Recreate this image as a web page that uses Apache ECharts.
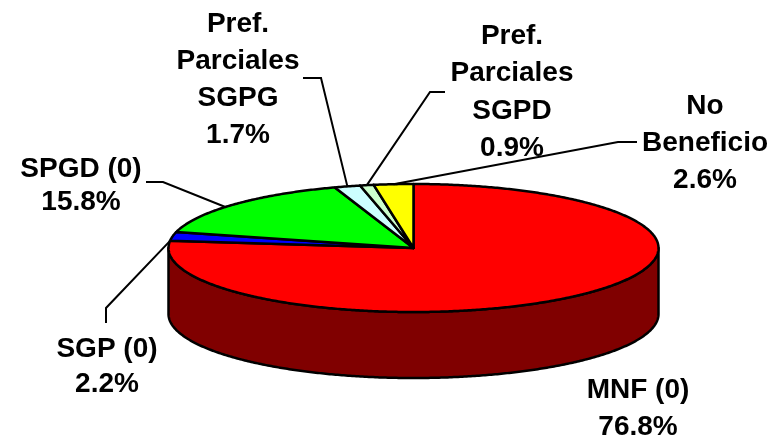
<!DOCTYPE html>
<html><head><meta charset="utf-8">
<style>html,body{margin:0;padding:0;background:#fff}#c{width:782px;height:437px}</style>
<script src="https://cdn.jsdelivr.net/npm/echarts@6/dist/echarts.min.js"></script>
</head><body><div id="c"></div>
<script>
// Data (clockwise from 12 o'clock)
const categories = ['MNF (0)', 'SGP (0)', 'SPGD (0)', 'Pref.\nParciales\nSGPG', 'Pref.\nParciales\nSGPD', 'No\nBeneficio'];
const shares = [76.8, 2.2, 15.8, 1.7, 0.9, 2.6];
const topColors = ['#ff0000', '#0000ff', '#00ff00', '#ccffff', '#ccffcc', '#ffff00'];
const wallColors = ['#800000', '#000080', '#008000', '#668080', '#668066', '#808000'];

// Pie geometry and label layout
const CX = 413.5, CY = 248, RX = 245, RY = 64, DEPTH = 66;
const labelLayout = [
  { x: 638, y: 390, line: 37 },
  { x: 107, y: 349, line: 35, path: [[106,323],[106,308]], shift: -4 },
  { x: 81,  y: 169, line: 33, path: [[146,182],[163,182]], shift: -3 },
  { x: 238, y: 24,  line: 37, path: [[303,78],[321,78]] },
  { x: 512, y: 36,  line: 37.5, path: [[445,92],[430,92]] },
  { x: 705, y: 106, line: 37, path: [[637,142],[618,142]] }
];

const total = shares.reduce((a, b) => a + b, 0);
let acc = 0;
const rows = shares.map((v, i) => { const s = acc; acc += v; return [i, s / total * 360, acc / total * 360, v]; });
const pt = (deg, dy) => { const r = deg * Math.PI / 180; return [CX + RX * Math.sin(r), CY - RY * Math.cos(r) + (dy || 0)]; };
const arc = (a, b, dy) => { const p = [], n = Math.max(2, Math.ceil((b - a) / 0.5)); for (let k = 0; k <= n; k++) p.push(pt(a + (b - a) * k / n, dy)); return p; };
const FONT = 'bold 28px "Liberation Sans", Arial, sans-serif';

const option = {
  animation: false,
  series: [
    { type: 'custom', coordinateSystem: 'none', silent: true, data: rows, z: 1,
      renderItem(params, api) {
        const a = Math.max(api.value(1), 90), b = Math.min(api.value(2), 270);
        if (b <= a) return { type: 'group', children: [] };
        const pts = arc(a, b, DEPTH).concat(arc(a, b, 0).reverse());
        return { type: 'polygon', shape: { points: pts }, style: { fill: wallColors[api.value(0)], stroke: '#000', lineWidth: 2.5, lineJoin: 'round' } };
      } },
    { type: 'custom', coordinateSystem: 'none', silent: true, data: rows, z: 2,
      renderItem(params, api) {
        const pts = [[CX, CY]].concat(arc(api.value(1), api.value(2), 0));
        return { type: 'polygon', shape: { points: pts }, style: { fill: topColors[api.value(0)], stroke: '#000', lineWidth: 2.5, lineJoin: 'round' } };
      } },
    { type: 'custom', coordinateSystem: 'none', silent: true, data: rows, z: 3,
      renderItem(params, api) {
        const i = api.value(0), L = labelLayout[i];
        const lines = (categories[i] + '\n' + api.value(3).toFixed(1) + '%').split('\n');
        const children = lines.map((t, k) => ({ type: 'text', style: { text: t, x: L.x, y: L.y + k * L.line, font: FONT, fill: '#000', align: 'center', verticalAlign: 'middle' } }));
        if (L.path) {
          const mid = pt((api.value(1) + api.value(2)) / 2 + (L.shift || 0), 0);
          children.push({ type: 'polyline', shape: { points: L.path.concat([mid]) }, style: { fill: 'none', stroke: '#000', lineWidth: 2 } });
        }
        return { type: 'group', children };
      } }
  ]
};
const chart = echarts.init(document.getElementById('c'), null, { renderer: 'canvas' });
chart.setOption(option);
</script></body></html>
